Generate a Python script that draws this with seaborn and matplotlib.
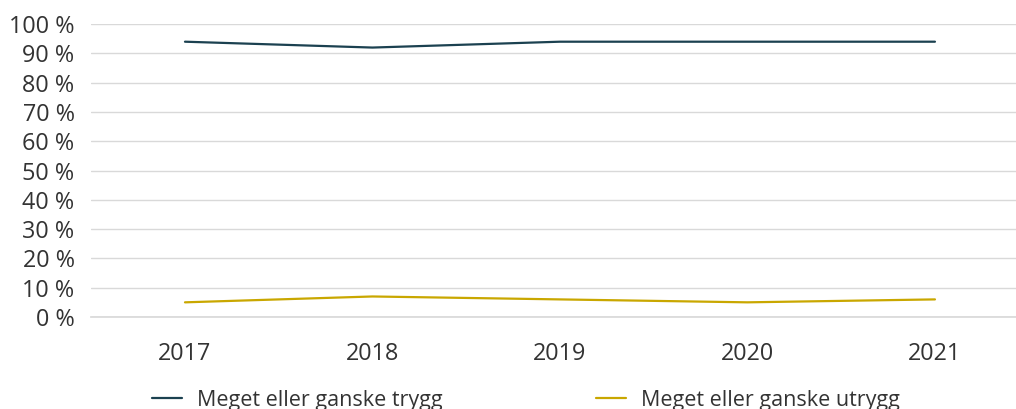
import pandas as pd
import numpy as np
import matplotlib.pyplot as plt
import seaborn as sns

# Data
years = ['2017', '2018', '2019', '2020', '2021']
trygg = [94, 92, 94, 94, 94]
utrygg = [5, 7, 6, 5, 6]
series_names = ['Meget eller ganske trygg', 'Meget eller ganske utrygg']
colors = ['#1b4150', '#c9a700']

df = pd.DataFrame({
    'År': years * 2,
    'Andel': trygg + utrygg,
    'Serie': [series_names[0]] * len(years) + [series_names[1]] * len(years),
})

sns.set_theme(style='white')
plt.rcParams['font.family'] = ['Open Sans', 'DejaVu Sans']
text_color = '#333333'

fig = plt.figure(figsize=(10.16, 4.09), dpi=100)
ax = fig.add_axes([0.0898, 0.225, 0.9227, 0.716])

sns.lineplot(data=df, x='År', y='Andel', hue='Serie', palette=colors,
             linewidth=1.6, ax=ax, legend=True, sort=False)

ax.set_ylim(0, 100)
ax.set_xlim(-0.5, len(years) - 0.5)
ax.set_yticks(np.arange(0, 101, 10))
ax.set_yticklabels([f'{v} %' for v in range(0, 101, 10)])
ax.yaxis.grid(True, color='#d9d9d9', linewidth=1)
ax.set_axisbelow(True)
for side in ['top', 'right', 'left']:
    ax.spines[side].set_visible(False)
ax.spines['bottom'].set_color('#d9d9d9')
ax.tick_params(axis='both', length=0, labelsize=16.8, colors=text_color)
ax.tick_params(axis='x', pad=18)
ax.tick_params(axis='y', pad=12)
ax.set_xlabel('')
ax.set_ylabel('')

handles, labels = ax.get_legend_handles_labels()
ax.get_legend().remove()
fig.legend(handles, labels, loc='center', bbox_to_anchor=(0.5177, 0.022), ncol=2,
           frameon=False, fontsize=15.5, labelcolor=text_color,
           handlelength=1.4, handletextpad=0.7, columnspacing=7.1)

fig.savefig('out.png', dpi=100)
